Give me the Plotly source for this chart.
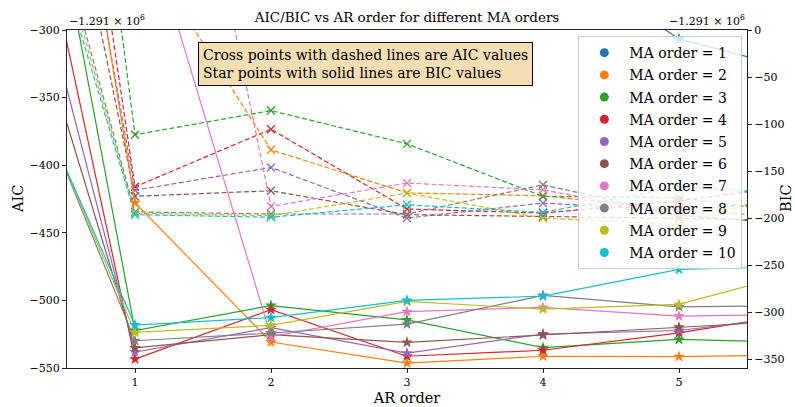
import plotly.graph_objects as go

# All criterion values are stored relative to this common offset
OFFSET = -1.291e6

ar_orders = [0, 1, 2, 3, 4, 5, 6]
ma_orders = [1, 2, 3, 4, 5, 6, 7, 8, 9, 10]

# AIC (relative to OFFSET) for AR orders 0..6, one list per MA order
aic_ma1 = [571.5, 362.0, 252.5, 143.0, 19.5, -85.5, -132.6]
aic_ma2 = [661.0, -231.0, -388.6, -420.5, -422.6, -432.9, -439.8]
aic_ma3 = [400.0, -377.5, -359.6, -384.2, -423.1, -424.0, -437.3]
aic_ma4 = [265.0, -416.0, -373.4, -432.4, -435.4, -426.5, -412.8]
aic_ma5 = [150.0, -418.5, -401.7, -439.1, -428.0, -433.5, -425.8]
aic_ma6 = [63.0, -423.0, -418.9, -436.6, -437.9, -439.5, -441.0]
aic_ma7 = [200.0, 60.0, -430.5, -413.2, -418.2, -437.3, -444.6]
aic_ma8 = [-70.0, -434.5, -436.1, -436.1, -414.5, -436.8, -444.9]
aic_ma9 = [-85.0, -435.5, -437.3, -420.6, -439.1, -443.8, -414.3]
aic_ma10 = [-100.0, -436.6, -438.5, -429.3, -434.9, -416.1, -422.0]

# BIC (relative to OFFSET) for AR orders 0..6, one list per MA order
bic_ma1 = [600.0, 400.0, 300.0, 200.0, 86.0, -9.5, -47.1]
bic_ma2 = [699.0, -183.6, -331.8, -354.3, -346.9, -347.4, -345.3]
bic_ma3 = [447.5, -319.5, -293.0, -308.3, -337.7, -329.0, -332.8]
bic_ma4 = [322.0, -350.0, -297.3, -346.9, -340.5, -322.0, -298.8]
bic_ma5 = [216.5, -342.5, -316.5, -343.6, -323.3, -319.5, -302.3]
bic_ma6 = [139.0, -338.0, -324.0, -332.1, -324.3, -316.0, -308.0]
bic_ma7 = [285.5, 155.0, -326.0, -299.5, -295.0, -304.3, -302.1]
bic_ma8 = [25.0, -330.4, -322.2, -312.8, -282.2, -294.3, -292.9]
bic_ma9 = [19.5, -321.5, -314.0, -288.5, -296.8, -291.8, -252.8]
bic_ma10 = [14.0, -313.7, -305.8, -287.5, -283.0, -254.6, -251.0]

aic_series = [aic_ma1, aic_ma2, aic_ma3, aic_ma4, aic_ma5,
              aic_ma6, aic_ma7, aic_ma8, aic_ma9, aic_ma10]
bic_series = [bic_ma1, bic_ma2, bic_ma3, bic_ma4, bic_ma5,
              bic_ma6, bic_ma7, bic_ma8, bic_ma9, bic_ma10]

x_ticks = [1, 2, 3, 4, 5]
aic_ticks = [-550, -500, -450, -400, -350, -300]
bic_ticks = [-350, -300, -250, -200, -150, -100, -50, 0]

colors = ["#1f77b4", "#ff7f0e", "#2ca02c", "#d62728", "#9467bd",
          "#8c564b", "#e377c2", "#7f7f7f", "#bcbd22", "#17becf"]

FONT = "DejaVu Serif"


def minus(v):
    return str(v).replace("-", "\u2212")


fig = go.Figure()

# AIC: crosses joined by dashed lines (left axis)
for q, vals, c in zip(ma_orders, aic_series, colors):
    fig.add_trace(go.Scatter(
        x=ar_orders, y=[OFFSET + v for v in vals], yaxis="y",
        mode="lines+markers", legendgroup=f"ma{q}", showlegend=False,
        line=dict(color=c, width=1.2, dash="5px,2.5px"),
        marker=dict(symbol="x-thin", size=8, line=dict(color=c, width=1.3)),
    ))

# BIC: stars joined by solid lines (right axis)
for q, vals, c in zip(ma_orders, bic_series, colors):
    fig.add_trace(go.Scatter(
        x=ar_orders, y=[OFFSET + v for v in vals], yaxis="y2",
        mode="lines+markers", legendgroup=f"ma{q}", showlegend=False,
        line=dict(color=c, width=1.2),
        marker=dict(symbol="star", size=9, color=c, line=dict(width=0)),
    ))

# Legend entries: one colored dot per MA order
for q, c in zip(ma_orders, colors):
    fig.add_trace(go.Scatter(
        x=[None], y=[None], mode="markers", name=f"MA order = {q}",
        legendgroup=f"ma{q}", marker=dict(symbol="circle", size=9, color=c),
    ))

axis_line = dict(showline=True, linecolor="#222", linewidth=1.2,
                 ticks="outside", ticklen=4, tickwidth=1, tickcolor="#222",
                 showgrid=False, zeroline=False, automargin=False)

fig.update_layout(
    width=795, height=407,
    margin=dict(l=67, r=48, t=30, b=38.5),
    paper_bgcolor="white", plot_bgcolor="white",
    font=dict(family=FONT, color="black"),
    title=dict(text="AIC/BIC vs AR order for different MA orders",
               font=dict(family=FONT, size=13.5, color="black"),
               xref="paper", x=0.5, xanchor="center",
               yref="container", y=1 - 17 / 407, yanchor="middle"),
    xaxis=dict(range=[0.5, 5.5], tickvals=x_ticks, mirror=True,
               tickfont=dict(size=11),
               title=dict(text="AR order", font=dict(size=14.5), standoff=4),
               **axis_line),
    yaxis=dict(range=[OFFSET - 550, OFFSET - 300],
               tickvals=[OFFSET + t for t in aic_ticks],
               ticktext=[minus(t) for t in aic_ticks],
               tickfont=dict(size=11),
               **axis_line),
    yaxis2=dict(range=[OFFSET - 359.4, OFFSET], overlaying="y", side="right",
                tickvals=[OFFSET + t for t in bic_ticks],
                ticktext=[minus(t) for t in bic_ticks],
                tickfont=dict(size=11),
                **axis_line),
    legend=dict(x=0.752, y=0.982, xanchor="left", yanchor="top",
                bgcolor="rgba(255,255,255,0.8)", bordercolor="#cccccc",
                borderwidth=1, font=dict(family=FONT, size=14),
                itemwidth=40, tracegroupgap=1),
)

# Vertical axis titles, placed beside the tick labels
PLOT_W = 795 - 67 - 48
fig.add_annotation(text="AIC", xref="paper", yref="paper",
                   x=(18 - 67) / PLOT_W, y=0.5, textangle=-90,
                   xanchor="center", yanchor="middle", showarrow=False,
                   font=dict(family=FONT, size=14.5))
fig.add_annotation(text="BIC", xref="paper", yref="paper",
                   x=(786 - 67) / PLOT_W, y=0.5, textangle=-90,
                   xanchor="center", yanchor="middle", showarrow=False,
                   font=dict(family=FONT, size=14.5))

offset_text = "\u22121.291 \u00d7 10<sup>6</sup>"
fig.add_annotation(text=offset_text, xref="paper", yref="paper", x=0, y=1,
                   xanchor="left", yanchor="bottom", showarrow=False,
                   font=dict(family=FONT, size=11))
fig.add_annotation(text=offset_text, xref="paper", yref="paper", x=1, y=1,
                   xanchor="right", yanchor="bottom", showarrow=False,
                   font=dict(family=FONT, size=11))

fig.add_annotation(
    text="Cross points with dashed lines are AIC values<br>"
         "Star points with solid lines are BIC values",
    xref="paper", yref="paper", x=0.1926, y=0.9654,
    xanchor="left", yanchor="top", align="left", showarrow=False,
    bgcolor="#f5deb3", bordercolor="black", borderwidth=1, borderpad=4,
    font=dict(family=FONT, size=14),
)

fig.write_html("out.html")
